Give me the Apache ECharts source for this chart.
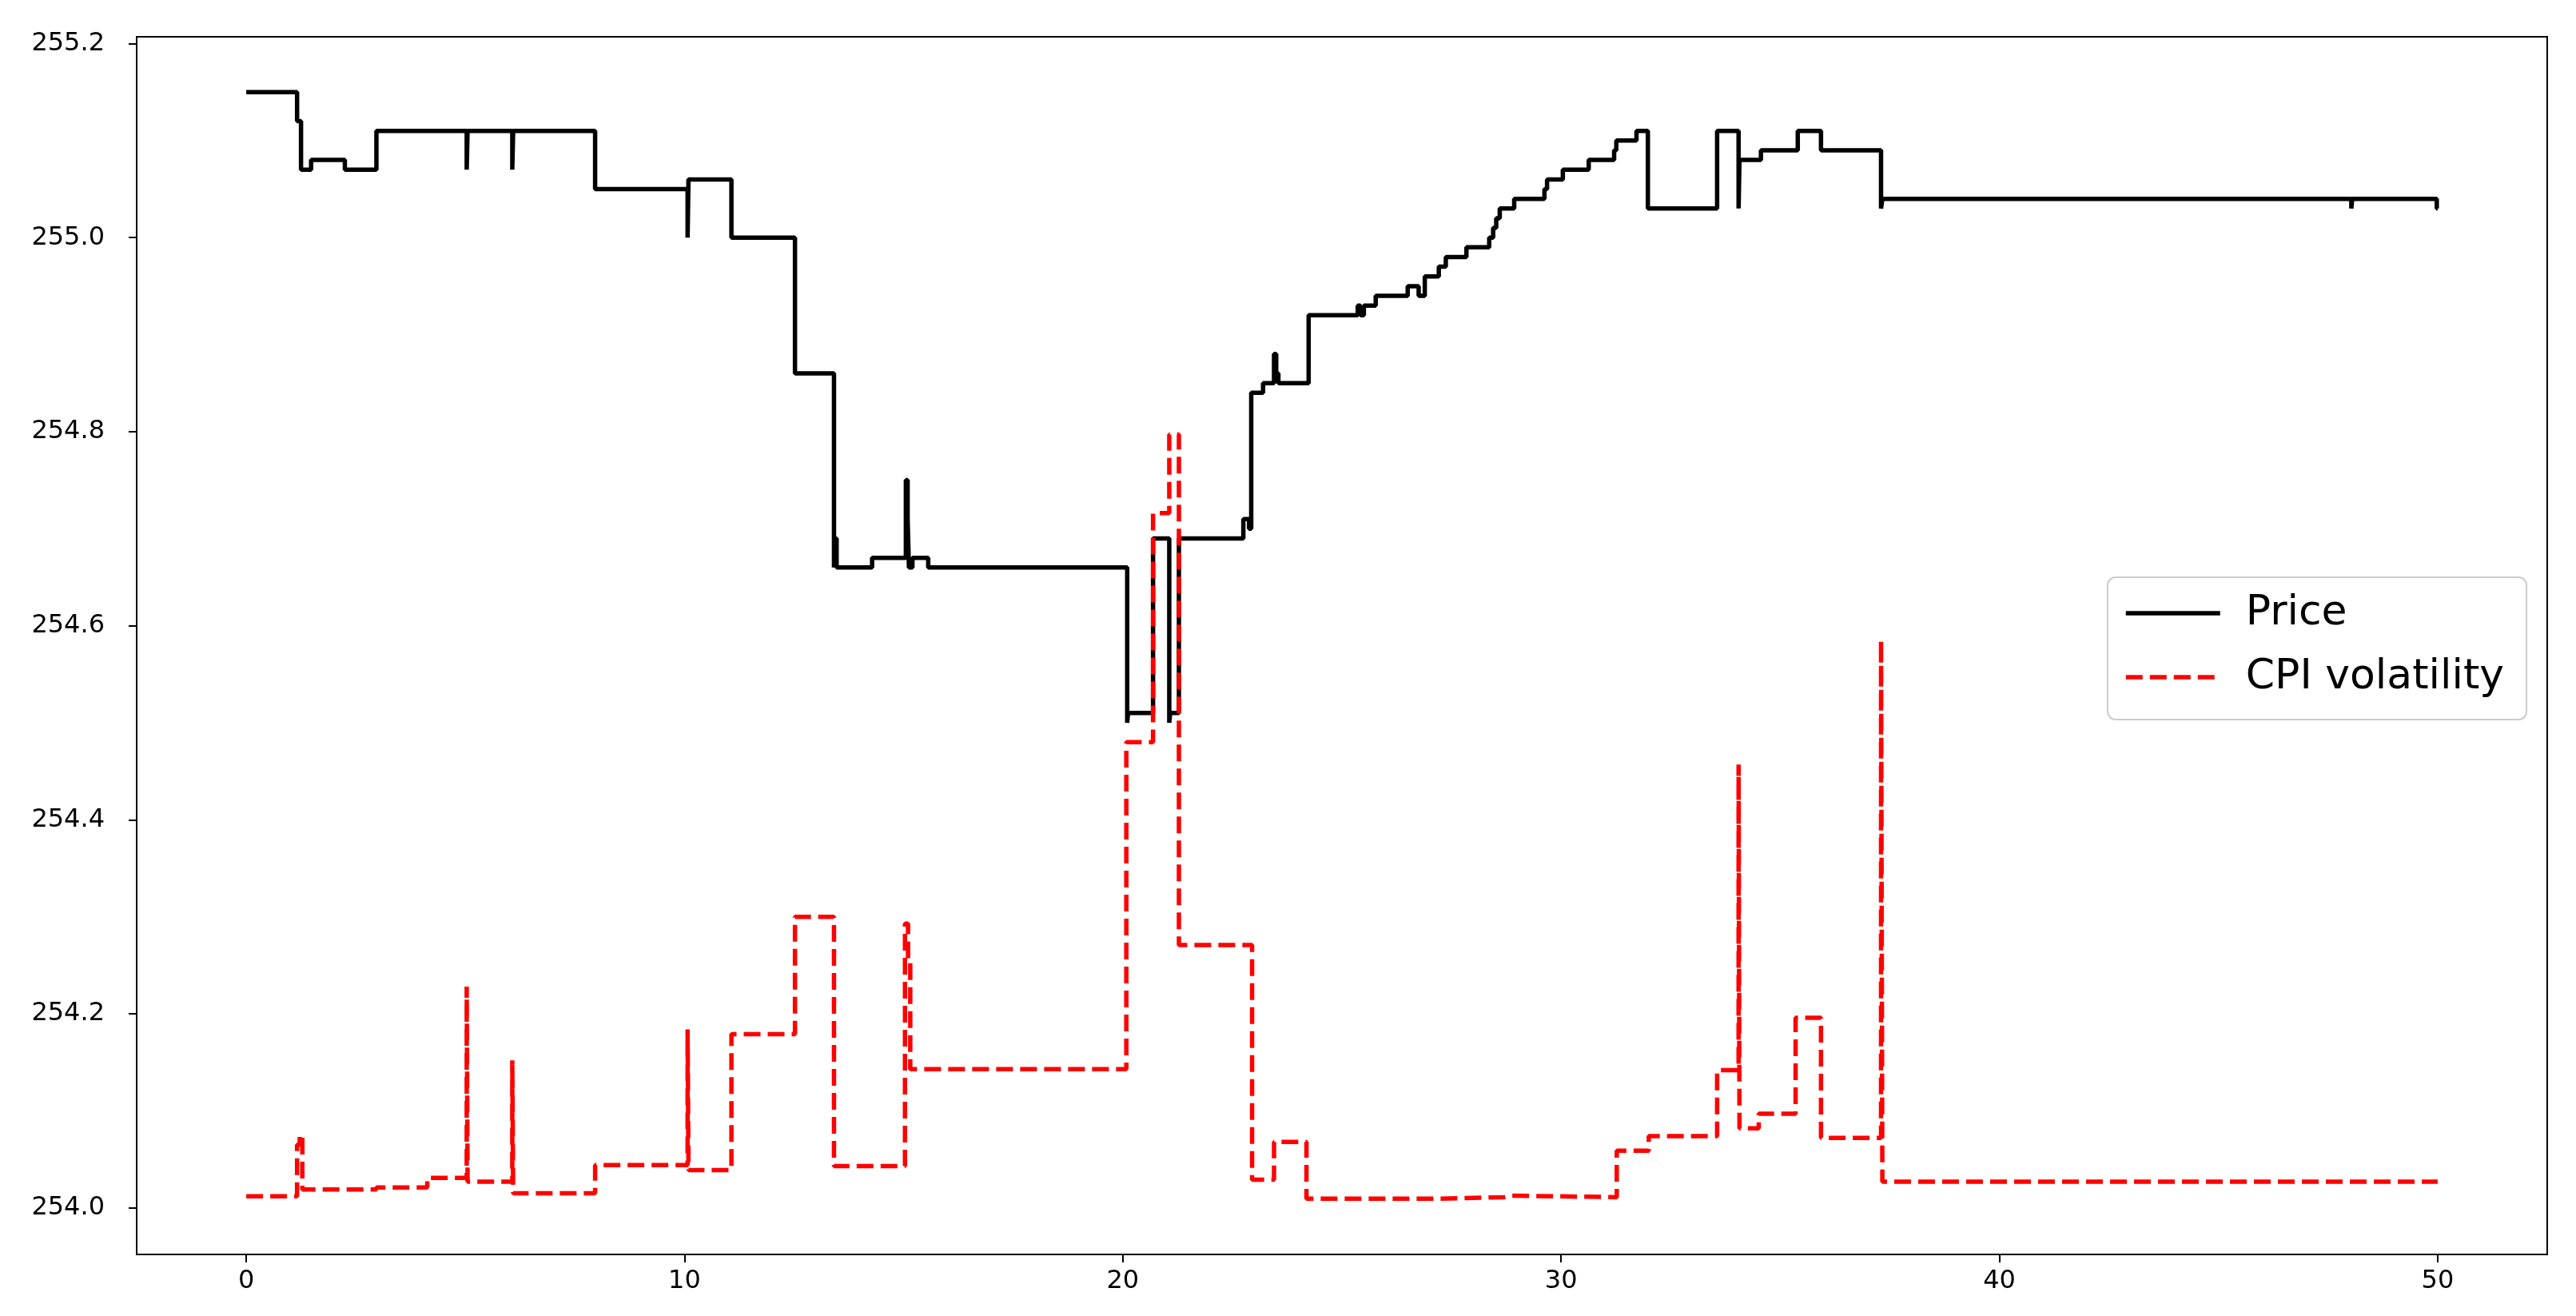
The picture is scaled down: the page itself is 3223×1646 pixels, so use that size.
<!DOCTYPE html>
<html>
<head>
<meta charset="utf-8">
<title>Price vs CPI volatility</title>
<script src="https://cdn.jsdelivr.net/npm/echarts@6/dist/echarts.min.js"></script>
<style>
  html, body { margin: 0; padding: 0; background: #fff; }
  #chart { width: 3223px; height: 1646px; }
</style>
</head>
<body>
<div id="chart"></div>
<script>
  // 价格（阶梯线，时间点 -> 数值）
  var priceTime = [0, 1.16, 1.25, 1.48, 2.25, 2.97, 5.03, 5.05, 6.07, 6.09, 7.96, 10.07, 10.09, 11.07, 12.52,
    13.41, 13.43, 13.47, 14.28, 15.05, 15.09, 15.12, 15.2, 15.56, 20.10, 20.12, 20.69, 21.06, 21.08, 21.28,
    22.75, 22.88, 22.93, 23.20, 23.45, 23.5, 23.55, 24.24, 25.36, 25.42, 25.5, 25.77, 26.50, 26.75, 26.89,
    27.21, 27.37, 27.84, 28.36, 28.45, 28.52, 28.6, 28.93, 29.62, 29.68, 30.04, 30.63, 31.21, 31.26, 31.72,
    31.98, 33.56, 34.05, 34.07, 34.56, 35.40, 35.93, 37.30, 37.33, 48.03, 48.05, 49.98, 50];
  var priceValue = [255.15, 255.12, 255.07, 255.08, 255.07, 255.11, 255.07, 255.11, 255.07, 255.11, 255.05, 255.00, 255.06, 255.00, 254.86,
    254.66, 254.69, 254.66, 254.67, 254.75, 254.71, 254.66, 254.67, 254.66, 254.50, 254.51, 254.69, 254.50, 254.51, 254.69,
    254.71, 254.70, 254.84, 254.85, 254.88, 254.86, 254.85, 254.92, 254.93, 254.92, 254.93, 254.94, 254.95, 254.94, 254.96,
    254.97, 254.98, 254.99, 255.00, 255.01, 255.02, 255.03, 255.04, 255.05, 255.06, 255.07, 255.08, 255.09, 255.10, 255.11,
    255.03, 255.11, 255.03, 255.08, 255.09, 255.11, 255.09, 255.03, 255.04, 255.03, 255.04, 255.03, 255.03];

  // CPI 波动
  var cpiTime = [0, 1.16, 1.22, 1.28, 2.97, 4.13, 5.03, 5.05, 6.07, 6.09, 7.96, 10.07, 10.09, 11.07, 12.52,
    13.41, 15.03, 15.1, 15.15, 20.08, 20.69, 21.06, 21.28, 22.95, 23.45, 24.19, 27.17, 28.7, 28.85, 31.27,
    32.0, 33.56, 34.05, 34.07, 34.51, 35.35, 35.93, 37.3, 37.33, 50];
  var cpiValue = [254.012, 254.065, 254.075, 254.019, 254.021, 254.031, 254.228, 254.027, 254.152, 254.015, 254.044, 254.184, 254.039, 254.179, 254.300,
    254.043, 254.293, 254.255, 254.143, 254.480, 254.716, 254.797, 254.271, 254.029, 254.068, 254.0095, 254.011, 254.0126, 254.011, 254.059,
    254.074, 254.142, 254.457, 254.082, 254.097, 254.196, 254.072, 254.585, 254.027, 254.027];

  var xTicks = [0, 10, 20, 30, 40, 50];
  var yTicks = [254.0, 254.2, 254.4, 254.6, 254.8, 255.0, 255.2];

  function pairs(t, v) {
    var out = [];
    for (var i = 0; i < t.length; i++) out.push([t[i], v[i]]);
    return out;
  }

  var chart = echarts.init(document.getElementById('chart'));
  var font = 'DejaVu Sans';

  chart.setOption({
    animation: false,
    backgroundColor: '#fff',
    grid: {
      left: 171, top: 46, width: 3016, height: 1523,
      containLabel: false,
      outerBoundsMode: 'none',
      show: true,
      borderColor: '#000',
      borderWidth: 2
    },
    legend: {
      orient: 'vertical',
      left: 2637,
      top: 722,
      padding: [19, 28, 27, 20],
      itemWidth: 118,
      itemHeight: 20,
      itemGap: 28,
      backgroundColor: 'rgba(255,255,255,0.8)',
      borderColor: '#cccccc',
      borderWidth: 2,
      borderRadius: 10,
      itemStyle: { opacity: 0 },   // 去掉图例上的圆点
      lineStyle: { width: 5.5 },
      textStyle: { fontFamily: font, fontSize: 52, color: '#000', padding: [0, 0, 0, 27] },
      data: ['Price', 'CPI volatility']
    },
    xAxis: {
      type: 'value',
      min: -2.5,
      max: 52.5,
      axisLine: { show: true, onZero: false, lineStyle: { color: '#000', width: 2 } },
      axisTick: { show: true, length: 10, lineStyle: { color: '#000', width: 2 }, customValues: xTicks },
      axisLabel: {
        fontFamily: font, fontSize: 32, color: '#000', margin: 18,
        customValues: xTicks
      },
      splitLine: { show: false }
    },
    yAxis: {
      type: 'value',
      min: 253.952,
      max: 255.207,
      axisLine: { show: true, onZero: false, lineStyle: { color: '#000', width: 2 } },
      axisTick: { show: true, length: 10, lineStyle: { color: '#000', width: 2 }, customValues: yTicks },
      axisLabel: {
        fontFamily: font, fontSize: 32, color: '#000', margin: 40,
        customValues: yTicks,
        formatter: function (v) { return v.toFixed(1); }
      },
      splitLine: { show: false }
    },
    series: [
      {
        name: 'Price',
        type: 'line',
        step: 'end',
        symbol: 'none',
        data: pairs(priceTime, priceValue),
        itemStyle: { color: '#000' },
        lineStyle: { color: '#000', width: 5.5 }
      },
      {
        name: 'CPI volatility',
        type: 'line',
        step: 'end',
        symbol: 'none',
        data: pairs(cpiTime, cpiValue),
        itemStyle: { color: '#ff0000' },
        lineStyle: { color: '#ff0000', width: 5.5, type: [21, 9] }
      }
    ]
  });
</script>
</body>
</html>
